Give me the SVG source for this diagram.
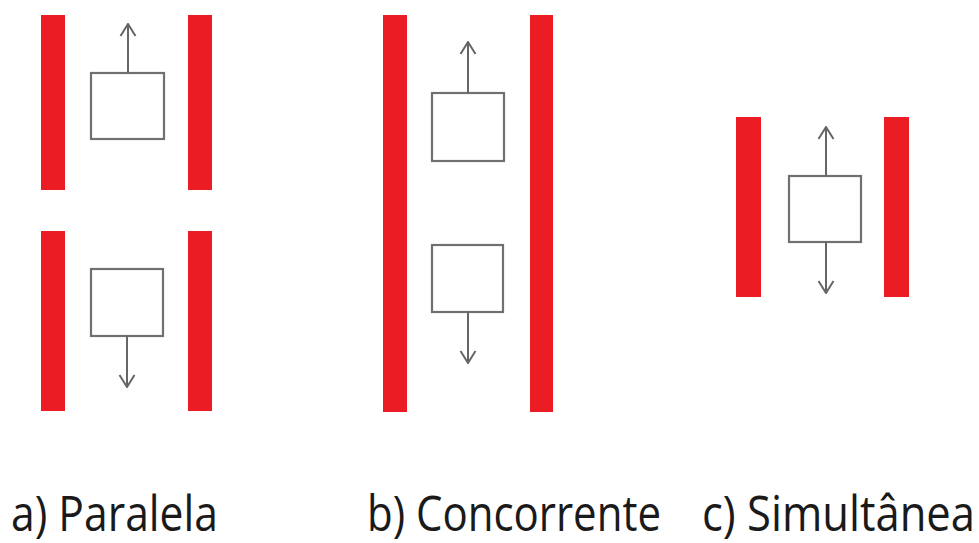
<svg xmlns="http://www.w3.org/2000/svg" width="979" height="543" viewBox="0 0 979 543">
  <style>
    .wall { fill: #ec1c24; }
    .box { fill: #ffffff; stroke: #707070; stroke-width: 2.2; }
    .arrow { fill: none; stroke: #666666; stroke-width: 2; marker-end: url(#head); }
    .label { font-family: "Open Sans", "Liberation Sans", sans-serif; font-size: 50px; fill: #1a1a1a; }
  </style>
  <defs>
    <marker id="head" viewBox="0 0 14 18" refX="13" refY="9" markerWidth="14" markerHeight="18" markerUnits="userSpaceOnUse" orient="auto">
      <path d="M1,1.5 L13,9 L1,16.5" fill="none" stroke="#666666" stroke-width="2"/>
    </marker>
  </defs>
  <rect width="979" height="543" fill="#ffffff"/>

  <!-- a) parallel -->
  <g id="walls-a">
    <rect class="wall" x="41" y="15" width="24" height="175"/>
    <rect class="wall" x="188" y="15" width="24" height="175"/>
    <rect class="wall" x="41" y="231" width="24" height="180"/>
    <rect class="wall" x="188" y="231" width="24" height="180"/>
  </g>
  <g id="box-a-top"><rect class="box" x="91" y="73" width="73" height="66"/></g>
  <g id="box-a-bottom"><rect class="box" x="91" y="269" width="72" height="67"/></g>

  <!-- b) concurrent -->
  <g id="walls-b">
    <rect class="wall" x="383" y="15" width="24" height="397"/>
    <rect class="wall" x="530" y="15" width="23" height="397"/>
  </g>
  <g id="box-b-top"><rect class="box" x="432" y="93" width="72" height="68"/></g>
  <g id="box-b-bottom"><rect class="box" x="432" y="245" width="71" height="67"/></g>

  <!-- c) simultaneous -->
  <g id="walls-c">
    <rect class="wall" x="736" y="117" width="25" height="180"/>
    <rect class="wall" x="884" y="117" width="25" height="180"/>
  </g>
  <g id="box-c"><rect class="box" x="789" y="176" width="72" height="66"/></g>

  <g id="connectors">
    <line class="arrow" x1="128" y1="73" x2="128" y2="24"/>
    <line class="arrow" x1="127" y1="336" x2="127" y2="387"/>
    <line class="arrow" x1="468" y1="93" x2="468" y2="42"/>
    <line class="arrow" x1="468" y1="312" x2="468" y2="363"/>
    <line class="arrow" x1="826" y1="176" x2="826" y2="127"/>
    <line class="arrow" x1="826" y1="242" x2="826" y2="293"/>
  </g>

  <g id="labels">
    <text class="label" x="11" y="531" textLength="207" lengthAdjust="spacingAndGlyphs">a) Paralela</text>
    <text class="label" x="367" y="531" textLength="294" lengthAdjust="spacingAndGlyphs">b) Concorrente</text>
    <text class="label" x="702" y="531" textLength="273" lengthAdjust="spacingAndGlyphs">c) Simultânea</text>
  </g>
</svg>
